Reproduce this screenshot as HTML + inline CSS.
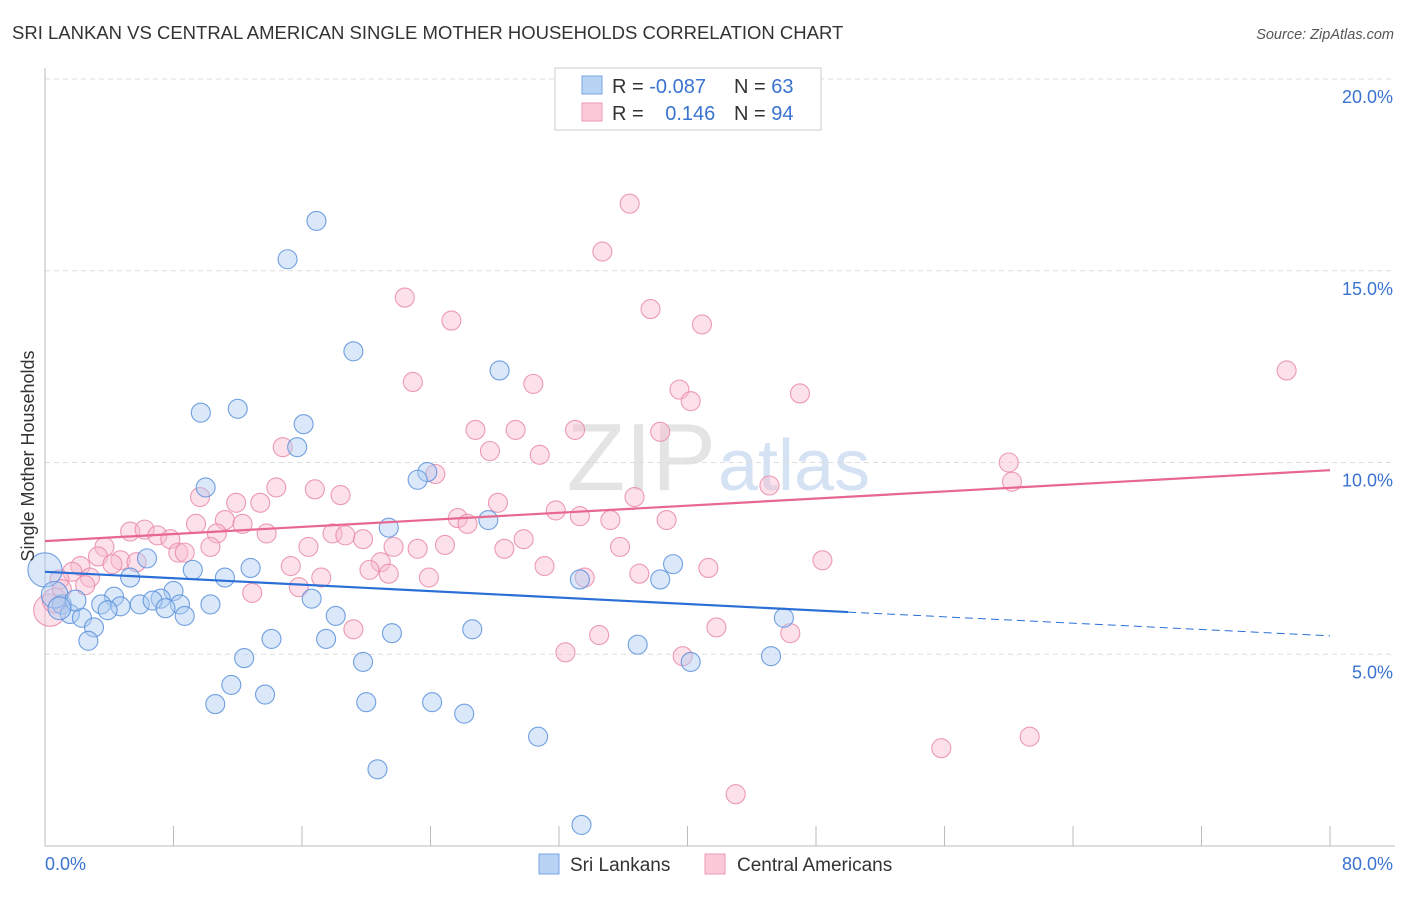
<!DOCTYPE html>
<html><head><meta charset="utf-8"><style>
body{margin:0;background:#fff;font-family:"Liberation Sans",sans-serif}
svg text{font-family:"Liberation Sans",sans-serif}
</style></head><body>
<svg id="chart" width="1406" height="892" viewBox="0 0 1406 892">
<text x="12" y="39" font-size="18.5" fill="#333">SRI LANKAN VS CENTRAL AMERICAN SINGLE MOTHER HOUSEHOLDS CORRELATION CHART</text>
<text x="1394" y="39" font-size="14.5" fill="#555" font-style="italic" text-anchor="end">Source: ZipAtlas.com</text>
<text x="716" y="490" font-size="96" fill="#e4e4e4" text-anchor="end" font-family="Liberation Serif">ZIP</text>
<text x="718" y="490" font-size="72" fill="#d4e2f4">atlas</text>
<g id="grid"></g><g id="axes"></g><g id="pts"></g><g id="trend"></g>
<text transform="translate(34,456) rotate(-90)" font-size="18" fill="#333" text-anchor="middle">Single Mother Households</text>
<g>
<rect x="555" y="68" width="266" height="62" fill="#fff" stroke="#ccc"/>
<rect x="582" y="76" width="20" height="18" fill="#b9d3f5" stroke="#7aa6e3"/>
<rect x="582" y="103" width="20" height="18" fill="#fcc9d8" stroke="#ee9ab5"/>
<text x="612" y="93" font-size="20" fill="#333">R = <tspan fill="#3a73d0">-0.087</tspan></text>
<text x="734" y="93" font-size="20" fill="#333">N = <tspan fill="#3a73d0">63</tspan></text>
<text x="612" y="120" font-size="20" fill="#333">R = <tspan fill="#3a73d0" dx="16">0.146</tspan></text>
<text x="734" y="120" font-size="20" fill="#333">N = <tspan fill="#3a73d0">94</tspan></text>
</g>
<g>
<rect x="539" y="854" width="20" height="20" fill="#b9d3f5" stroke="#7aa6e3"/>
<text x="570" y="871" font-size="19" fill="#333">Sri Lankans</text>
<rect x="705" y="854" width="20" height="20" fill="#fcc9d8" stroke="#ee9ab5"/>
<text x="737" y="871" font-size="19" fill="#333">Central Americans</text>
</g>
</svg>
<script>
const yTicks=[5,10,15,20];
const yTickLabels=["5.0%","10.0%","15.0%","20.0%"];
const xTickLabels=["0.0%","80.0%"];
const blueX=[15.1,16.9,19.2,28.3,9.7,12.0,16.1,15.7,23.8,23.2,10.0,27.6,21.4,6.35,5.3,9.2,11.2,12.8,8.0,4.3,7.2,3.5,4.7,5.9,3.9,6.7,8.4,7.5,8.7,10.3,16.6,18.1,1.05,1.55,2.3,3.05,2.7,14.1,17.5,12.4,19.8,21.6,26.6,33.3,38.3,39.1,46.0,36.9,40.2,45.2,11.6,13.7,10.6,20.0,24.1,26.1,30.7,20.7,33.4,0,0.6,1.9,0.9];
const blueY=[15.3,16.3,12.9,12.4,11.3,11.4,11.0,10.4,9.75,9.55,9.35,8.5,8.3,7.5,7.0,7.2,7.0,7.25,6.65,6.5,6.45,6.3,6.25,6.3,6.15,6.4,6.3,6.2,6.0,6.3,6.45,6.0,6.3,6.05,5.95,5.7,5.35,5.4,5.4,4.9,4.8,5.55,5.65,6.95,6.95,7.35,5.95,5.25,4.8,4.95,4.2,3.95,3.7,3.75,3.75,3.45,2.85,2.0,0.55,7.2,6.55,6.4,6.2];
const blueSize=[1,1,1,1,1,1,1,1,1,1,1,1,1,1,1,1,1,1,1,1,1,1,1,1,1,1,1,1,1,1,1,1,1,1,1,1,1,1,1,1,1,1,1,1,1,1,1,1,1,1,1,1,1,1,1,1,1,1,1,1.8,1.4,1.1,1.2];
const pinkX=[36.4,34.7,22.4,37.7,40.9,25.3,77.3,22.9,30.4,39.5,40.2,47.0,26.8,29.3,33.0,38.3,14.8,27.7,30.8,60.0,24.3,60.2,45.1,16.8,14.4,9.65,18.4,36.7,28.2,11.9,13.4,31.8,25.7,33.3,35.2,26.3,38.7,9.4,11.2,12.3,10.7,5.3,6.2,7.0,13.8,17.9,18.7,19.8,29.8,7.8,3.7,16.4,10.3,21.7,23.2,24.9,28.6,35.8,8.3,8.7,3.3,4.7,5.7,4.2,20.9,15.3,31.1,20.2,21.4,41.3,48.4,37.0,2.2,1.7,2.8,17.2,23.9,33.6,15.8,12.9,0.9,0.3,0.6,41.8,34.5,46.4,19.2,32.4,39.7,55.8,61.3,43.0,1.05,2.5];
const pinkY=[16.75,15.5,14.3,14.0,13.6,13.7,12.4,12.1,12.05,11.9,11.6,11.8,10.85,10.85,10.85,10.8,10.4,10.3,10.2,10.0,9.7,9.5,9.4,9.3,9.35,9.1,9.15,9.1,8.95,8.95,8.95,8.75,8.55,8.6,8.5,8.4,8.5,8.4,8.5,8.4,8.15,8.2,8.25,8.1,8.15,8.15,8.1,8.0,8.0,8.0,7.8,7.8,7.8,7.8,7.75,7.85,7.75,7.8,7.65,7.65,7.55,7.45,7.4,7.35,7.4,7.3,7.3,7.2,7.1,7.25,7.45,7.1,7.3,7.15,7.0,7.0,7.0,7.0,6.75,6.6,6.95,6.15,6.4,5.7,5.5,5.55,5.65,5.05,4.95,2.55,2.85,1.35,6.7,6.8];
const pinkSize=pinkX.map((_,i)=>i===81?1.7:(i===82?1.3:1));
const blueTrendX=[0,50,80];
const blueTrendY=[7.15,6.1,5.48];
const pinkTrendX=[0,80];
const pinkTrendY=[7.95,9.8];

const X0=45,X1=1330,Y0=846,YTOP=79;
const sx=v=>X0+(X1-X0)*v/80;
const sy=v=>Y0-(Y0-YTOP)*v/20;
const NS='http://www.w3.org/2000/svg';
function mk(tag,attrs,parent){const e=document.createElementNS(NS,tag);for(const k in attrs)e.setAttribute(k,attrs[k]);document.getElementById(parent).appendChild(e);return e;}

yTicks.forEach((t,i)=>{
  const l=mk('line',{x1:X0,x2:1395,y1:sy(t),y2:sy(t),stroke:'#ddd','stroke-dasharray':'5,4'},'grid');
  
  
  const tx=mk('text',{x:1393,y:sy(t)+24,'font-size':18,fill:'#3a73d0','text-anchor':'end'},'grid');
  tx.textContent=yTickLabels[i];
  
  
});
const ax=mk('line',{x1:X0,x2:X0,y1:68,y2:Y0,stroke:'#bbb'},'axes');


const bx=mk('line',{x1:X0,x2:1395,y1:Y0,y2:Y0,stroke:'#bbb'},'axes');


for(let i=0;i<=10;i++){
  const t=mk('line',{x1:sx(i*8),x2:sx(i*8),y1:826,y2:Y0,stroke:'#bbb'},'axes');
  
  
}
[[0,'start',45],[80,'end',1393]].forEach((d,i)=>{
  const t=mk('text',{x:d[2],y:870,'font-size':18,fill:'#3a73d0','text-anchor':d[1]},'axes');
  t.textContent=xTickLabels[i];
  
  
});
function pts(xs,ys,ss,fill,stroke,name){
  xs.forEach((x,i)=>{
    const c=mk('circle',{cx:sx(x),cy:sy(ys[i]),r:9.5*ss[i],fill:fill,'fill-opacity':0.45,stroke:stroke,'stroke-width':1.1,'stroke-opacity':0.85},'pts');
    
    
  });
}
pts(pinkX,pinkY,pinkSize,'#f8bdd0','#e98aaa','central-american-point');
pts(blueX,blueY,blueSize,'#aecbf2','#5a90dc','sri-lankan-point');
const b1=mk('line',{x1:sx(blueTrendX[0]),y1:sy(blueTrendY[0]),x2:sx(blueTrendX[1]),y2:sy(blueTrendY[1]),stroke:'#2a6fd6','stroke-width':2.2},'trend');


const b2=mk('line',{x1:sx(blueTrendX[1]),y1:sy(blueTrendY[1]),x2:sx(blueTrendX[2]),y2:sy(blueTrendY[2]),stroke:'#2a6fd6','stroke-width':1,'stroke-dasharray':'8,5'},'trend');


const p1=mk('line',{x1:sx(pinkTrendX[0]),y1:sy(pinkTrendY[0]),x2:sx(pinkTrendX[1]),y2:sy(pinkTrendY[1]),stroke:'#e8678f','stroke-width':2.2},'trend');


</script>
</body></html>
